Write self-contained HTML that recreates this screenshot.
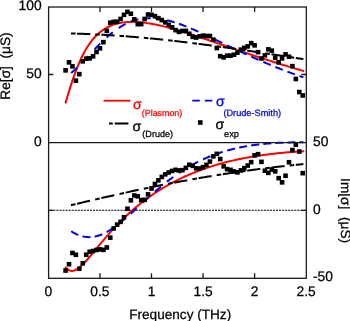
<!DOCTYPE html>
<html><head><meta charset="utf-8"><style>
html,body{margin:0;padding:0;background:#fff;}
svg{display:block;will-change:transform;}
text{font-family:"Liberation Sans",sans-serif;text-rendering:geometricPrecision;}
</style></head><body>
<svg width="350" height="321" viewBox="0 0 350 321">
<rect width="350" height="321" fill="#fff"/>
<defs><clipPath id="c"><rect x="48.4" y="7" width="257.9" height="271.3"/></clipPath></defs>
<path d="M48.6,210.3 H306.3" stroke="#000" stroke-width="1.05" stroke-dasharray="2.05 1" stroke-dashoffset="1.35" fill="none"/>
<g clip-path="url(#c)"><g transform="translate(0,0.35)">
<path d="M65.60,102.29 L67.60,95.56 L69.60,89.02 L71.59,82.77 L73.59,76.87 L75.59,71.35 L77.59,66.22 L79.59,61.49 L81.59,57.14 L83.58,53.17 L85.58,49.54 L87.58,46.25 L89.58,43.27 L91.58,40.57 L93.58,38.13 L95.57,35.94 L97.57,33.97 L99.57,32.20 L101.57,30.62 L103.57,29.22 L105.57,27.97 L107.56,26.86 L109.56,25.89 L111.56,25.04 L113.56,24.31 L115.56,23.68 L117.56,23.14 L119.55,22.69 L121.55,22.32 L123.55,22.03 L125.55,21.81 L127.55,21.65 L129.55,21.55 L131.54,21.51 L133.54,21.52 L135.54,21.58 L137.54,21.69 L139.54,21.83 L141.54,22.02 L143.53,22.24 L145.53,22.50 L147.53,22.78 L149.53,23.10 L151.53,23.45 L153.53,23.82 L155.52,24.22 L157.52,24.64 L159.52,25.08 L161.52,25.54 L163.52,26.02 L165.52,26.52 L167.51,27.03 L169.51,27.56 L171.51,28.11 L173.51,28.67 L175.51,29.24 L177.51,29.82 L179.50,30.41 L181.50,31.01 L183.50,31.62 L185.50,32.24 L187.50,32.87 L189.50,33.51 L191.49,34.15 L193.49,34.80 L195.49,35.45 L197.49,36.11 L199.49,36.77 L201.49,37.44 L203.48,38.11 L205.48,38.79 L207.48,39.47 L209.48,40.14 L211.48,40.83 L213.48,41.51 L215.47,42.19 L217.47,42.88 L219.47,43.57 L221.47,44.25 L223.47,44.94 L225.47,45.63 L227.46,46.32 L229.46,47.00 L231.46,47.69 L233.46,48.37 L235.46,49.05 L237.46,49.74 L239.45,50.42 L241.45,51.09 L243.45,51.77 L245.45,52.44 L247.45,53.12 L249.45,53.79 L251.44,54.45 L253.44,55.12 L255.44,55.78 L257.44,56.44 L259.44,57.09 L261.44,57.74 L263.43,58.39 L265.43,59.04 L267.43,59.68 L269.43,60.32 L271.43,60.95 L273.43,61.58 L275.42,62.21 L277.42,62.83 L279.42,63.45 L281.42,64.07 L283.42,64.68 L285.42,65.29 L287.41,65.89 L289.41,66.49 L291.41,67.09 L293.41,67.68 L295.41,68.27 L297.41,68.85 L299.40,69.43 L301.40,70.00 L303.40,70.57" stroke="#ff0000" stroke-width="2" fill="none" stroke-linecap="round"/>
<path d="M65.60,267.09 L67.60,269.05 L69.60,270.17 L71.59,270.56 L73.59,270.35 L75.59,269.62 L77.59,268.47 L79.59,266.98 L81.59,265.22 L83.58,263.25 L85.58,261.13 L87.58,258.88 L89.58,256.55 L91.58,254.17 L93.58,251.75 L95.57,249.31 L97.57,246.88 L99.57,244.46 L101.57,242.05 L103.57,239.67 L105.57,237.33 L107.56,235.02 L109.56,232.75 L111.56,230.52 L113.56,228.34 L115.56,226.20 L117.56,224.11 L119.55,222.06 L121.55,220.06 L123.55,218.10 L125.55,216.18 L127.55,214.31 L129.55,212.49 L131.54,210.70 L133.54,208.96 L135.54,207.26 L137.54,205.60 L139.54,203.98 L141.54,202.40 L143.53,200.86 L145.53,199.35 L147.53,197.88 L149.53,196.44 L151.53,195.04 L153.53,193.68 L155.52,192.35 L157.52,191.05 L159.52,189.78 L161.52,188.54 L163.52,187.33 L165.52,186.15 L167.51,185.01 L169.51,183.89 L171.51,182.79 L173.51,181.73 L175.51,180.69 L177.51,179.68 L179.50,178.69 L181.50,177.73 L183.50,176.80 L185.50,175.88 L187.50,174.99 L189.50,174.13 L191.49,173.28 L193.49,172.46 L195.49,171.66 L197.49,170.88 L199.49,170.13 L201.49,169.39 L203.48,168.67 L205.48,167.97 L207.48,167.29 L209.48,166.63 L211.48,165.99 L213.48,165.37 L215.47,164.76 L217.47,164.17 L219.47,163.60 L221.47,163.04 L223.47,162.50 L225.47,161.98 L227.46,161.47 L229.46,160.98 L231.46,160.50 L233.46,160.04 L235.46,159.59 L237.46,159.15 L239.45,158.73 L241.45,158.32 L243.45,157.93 L245.45,157.54 L247.45,157.17 L249.45,156.82 L251.44,156.47 L253.44,156.14 L255.44,155.81 L257.44,155.50 L259.44,155.20 L261.44,154.91 L263.43,154.63 L265.43,154.37 L267.43,154.11 L269.43,153.86 L271.43,153.62 L273.43,153.39 L275.42,153.17 L277.42,152.96 L279.42,152.75 L281.42,152.56 L283.42,152.37 L285.42,152.19 L287.41,152.02 L289.41,151.86 L291.41,151.71 L293.41,151.56 L295.41,151.42 L297.41,151.29 L299.40,151.16 L301.40,151.04 L303.40,150.93" stroke="#ff0000" stroke-width="2" fill="none" stroke-linecap="round"/>
<path d="M71.20,72.66 L71.75,72.19 L72.30,71.71 L72.85,71.23 L73.39,70.75 L73.93,70.26 L74.47,69.77 L75.00,69.27 L75.53,68.78 L76.06,68.28 L76.58,67.77 L77.11,67.27 M82.55,61.76 L83.05,61.24 L83.55,60.71 L84.06,60.19 L84.56,59.66 L85.06,59.13 L85.55,58.60 L86.05,58.07 L86.55,57.54 L87.05,57.01 L87.54,56.48 L88.04,55.95 M94.60,48.96 L95.10,48.43 L95.60,47.91 L96.11,47.38 L96.61,46.86 L97.12,46.33 L97.63,45.81 L98.13,45.29 L98.64,44.77 L99.15,44.26 L99.67,43.74 L100.18,43.23 M106.65,37.07 L107.19,36.59 L107.74,36.10 L108.28,35.63 L108.83,35.15 L109.39,34.68 L109.94,34.21 L110.50,33.74 L111.06,33.28 L111.63,32.82 L112.19,32.37 L112.76,31.92 M118.70,27.64 L119.31,27.24 L119.92,26.85 L120.54,26.47 L121.16,26.09 L121.79,25.72 L122.42,25.35 L123.05,24.99 L123.69,24.64 L124.33,24.30 L124.97,23.96 L125.62,23.63 M130.75,21.36 L131.43,21.10 L132.11,20.85 L132.80,20.61 L133.49,20.38 L134.18,20.16 L134.88,19.95 L135.58,19.75 L136.28,19.56 L136.98,19.37 L137.69,19.20 L138.40,19.04 M142.80,18.26 L143.52,18.17 L144.24,18.08 L144.97,18.01 L145.69,17.95 L146.42,17.90 L147.14,17.85 L147.87,17.82 L148.60,17.80 L149.32,17.78 L150.05,17.78 L150.78,17.78 M154.85,17.96 L155.57,18.02 L156.30,18.08 L157.02,18.16 L157.75,18.24 L158.47,18.33 L159.19,18.43 L159.91,18.53 L160.63,18.64 L161.34,18.76 L162.06,18.88 L162.78,19.02 M166.90,19.89 L167.61,20.06 L168.31,20.23 L169.02,20.41 L169.72,20.60 L170.42,20.79 L171.12,20.98 L171.82,21.18 L172.52,21.39 L173.22,21.59 L173.91,21.80 L174.61,22.02 M178.95,23.46 L179.64,23.70 L180.32,23.95 L181.01,24.19 L181.69,24.44 L182.37,24.70 L183.05,24.95 L183.73,25.21 L184.41,25.47 L185.09,25.73 L185.76,26.00 L186.44,26.27 M191.00,28.14 L191.67,28.42 L192.34,28.71 L193.01,28.99 L193.67,29.28 L194.34,29.57 L195.01,29.86 L195.67,30.16 L196.34,30.45 L197.00,30.74 L197.67,31.04 L198.33,31.34 M203.05,33.49 L203.71,33.80 L204.37,34.10 L205.03,34.41 L205.69,34.72 L206.35,35.03 L207.00,35.34 L207.66,35.65 L208.32,35.96 L208.98,36.27 L209.63,36.58 L210.29,36.89 M215.10,39.19 L215.76,39.50 L216.41,39.82 L217.07,40.13 L217.72,40.45 L218.38,40.76 L219.03,41.08 L219.69,41.39 L220.34,41.71 L221.00,42.03 L221.65,42.34 L222.31,42.66 M227.15,44.99 L227.81,45.30 L228.46,45.61 L229.12,45.93 L229.77,46.24 L230.43,46.56 L231.09,46.87 L231.74,47.18 L232.40,47.50 L233.05,47.81 L233.71,48.12 L234.37,48.43 M239.20,50.72 L239.86,51.02 L240.52,51.33 L241.18,51.64 L241.84,51.95 L242.49,52.25 L243.15,52.56 L243.81,52.87 L244.47,53.17 L245.13,53.48 L245.80,53.78 L246.46,54.08 M251.25,56.27 L251.91,56.56 L252.58,56.86 L253.24,57.16 L253.90,57.46 L254.57,57.75 L255.23,58.05 L255.90,58.34 L256.56,58.64 L257.23,58.93 L257.89,59.22 L258.56,59.51 M263.30,61.57 L263.97,61.85 L264.64,62.14 L265.31,62.42 L265.98,62.71 L266.65,62.99 L267.32,63.27 L267.99,63.55 L268.66,63.83 L269.33,64.11 L270.00,64.39 L270.67,64.67 M275.35,66.58 L276.02,66.85 L276.70,67.12 L277.37,67.39 L278.05,67.66 L278.73,67.93 L279.40,68.20 L280.08,68.46 L280.76,68.73 L281.43,68.99 L282.11,69.26 L282.79,69.52 M287.40,71.29 L288.08,71.54 L288.76,71.80 L289.44,72.05 L290.12,72.31 L290.81,72.56 L291.49,72.81 L292.17,73.06 L292.85,73.31 L293.54,73.56 L294.22,73.81 L294.90,74.06 M299.45,75.68 L299.81,75.81 L300.17,75.93 L300.53,76.06 L300.89,76.18 L301.24,76.31 L301.60,76.43 L301.96,76.56 L302.32,76.68 L302.68,76.81 L303.04,76.93 L303.40,77.06" stroke="#0000e0" stroke-width="2" fill="none"/>
<path d="M71.20,230.91 L71.81,231.29 L72.43,231.67 L73.06,232.05 L73.69,232.41 L74.33,232.76 L74.97,233.10 L75.62,233.42 L76.28,233.74 L76.94,234.04 L77.60,234.33 L78.28,234.61 M82.55,235.98 L83.26,236.15 L83.97,236.29 L84.69,236.42 L85.41,236.53 L86.13,236.62 L86.85,236.69 L87.58,236.74 L88.30,236.77 L89.03,236.79 L89.76,236.78 L90.49,236.76 M94.60,236.26 L95.31,236.12 L96.02,235.96 L96.73,235.79 L97.43,235.60 L98.13,235.39 L98.82,235.17 L99.51,234.94 L100.20,234.69 L100.88,234.44 L101.55,234.17 L102.22,233.89 M106.65,231.72 L107.29,231.37 L107.92,231.01 L108.55,230.64 L109.17,230.27 L109.79,229.89 L110.41,229.50 L111.02,229.11 L111.63,228.71 L112.23,228.31 L112.83,227.90 L113.43,227.49 M118.70,223.58 L119.27,223.13 L119.84,222.68 L120.41,222.22 L120.97,221.77 L121.53,221.31 L122.10,220.84 L122.65,220.38 L123.21,219.91 L123.77,219.44 L124.32,218.97 L124.87,218.50 M130.75,213.32 L131.29,212.83 L131.83,212.34 L132.37,211.85 L132.91,211.36 L133.44,210.87 L133.98,210.38 L134.52,209.89 L135.05,209.40 L135.59,208.91 L136.12,208.41 L136.66,207.92 M142.80,202.26 L143.34,201.76 L143.87,201.27 L144.41,200.78 L144.94,200.29 L145.48,199.80 L146.02,199.31 L146.55,198.82 L147.09,198.33 L147.63,197.84 L148.17,197.35 L148.71,196.86 M154.85,191.41 L155.40,190.93 L155.95,190.46 L156.50,189.98 L157.05,189.51 L157.60,189.03 L158.16,188.56 L158.71,188.09 L159.27,187.62 L159.82,187.16 L160.38,186.69 L160.94,186.22 M166.90,181.42 L167.47,180.97 L168.05,180.53 L168.62,180.08 L169.20,179.64 L169.78,179.20 L170.36,178.76 L170.94,178.33 L171.53,177.89 L172.11,177.46 L172.70,177.03 L173.29,176.60 M178.95,172.63 L179.55,172.23 L180.16,171.82 L180.77,171.42 L181.37,171.02 L181.98,170.63 L182.60,170.23 L183.21,169.84 L183.82,169.45 L184.44,169.07 L185.06,168.68 L185.68,168.30 M191.00,165.17 L191.63,164.81 L192.27,164.46 L192.91,164.11 L193.55,163.76 L194.19,163.42 L194.83,163.08 L195.47,162.74 L196.12,162.40 L196.76,162.07 L197.41,161.74 L198.06,161.41 M203.05,159.02 L203.71,158.71 L204.37,158.42 L205.04,158.12 L205.71,157.83 L206.37,157.54 L207.04,157.25 L207.71,156.97 L208.38,156.69 L209.05,156.41 L209.73,156.14 L210.40,155.86 M215.10,154.07 L215.78,153.83 L216.47,153.58 L217.16,153.34 L217.84,153.10 L218.53,152.87 L219.22,152.64 L219.91,152.41 L220.60,152.18 L221.29,151.96 L221.99,151.74 L222.68,151.52 M227.15,150.21 L227.85,150.01 L228.55,149.82 L229.25,149.63 L229.96,149.44 L230.66,149.26 L231.37,149.08 L232.07,148.90 L232.78,148.73 L233.48,148.55 L234.19,148.38 L234.90,148.22 M239.20,147.26 L239.91,147.12 L240.62,146.97 L241.34,146.83 L242.05,146.69 L242.77,146.55 L243.48,146.42 L244.20,146.28 L244.91,146.15 L245.63,146.03 L246.34,145.90 L247.06,145.78 M251.25,145.11 L251.97,145.00 L252.69,144.90 L253.41,144.80 L254.13,144.70 L254.85,144.60 L255.57,144.50 L256.29,144.41 L257.01,144.32 L257.74,144.23 L258.46,144.14 L259.18,144.05 M263.30,143.61 L264.02,143.54 L264.75,143.47 L265.47,143.40 L266.20,143.33 L266.92,143.27 L267.64,143.20 L268.37,143.14 L269.09,143.08 L269.82,143.03 L270.54,142.97 L271.27,142.92 M275.35,142.64 L276.08,142.60 L276.80,142.56 L277.53,142.52 L278.25,142.48 L278.98,142.44 L279.71,142.41 L280.43,142.38 L281.16,142.34 L281.89,142.31 L282.61,142.28 L283.34,142.25 M287.40,142.12 L288.13,142.10 L288.85,142.08 L289.58,142.07 L290.31,142.05 L291.04,142.04 L291.76,142.02 L292.49,142.01 L293.22,142.00 L293.94,141.99 L294.67,141.98 L295.40,141.97 M299.45,141.95 L299.81,141.95 L300.17,141.95 L300.53,141.95 L300.89,141.95 L301.25,141.95 L301.60,141.95 L301.96,141.96 L302.32,141.96 L302.68,141.96 L303.04,141.96 L303.40,141.96" stroke="#0000e0" stroke-width="2" fill="none"/>
<path d="M71.00,33.17 L71.42,33.18 L71.84,33.19 L72.25,33.20 L72.67,33.21 L73.09,33.22 L73.51,33.23 L73.93,33.24 L74.34,33.25 L74.76,33.26 L75.18,33.27 L75.60,33.28 M77.10,33.33 L78.30,33.36 L79.50,33.40 L80.70,33.44 L81.90,33.48 L83.10,33.52 L84.30,33.57 L85.50,33.61 L86.69,33.66 L87.89,33.71 L89.09,33.76 L90.29,33.81 M95.20,34.03 L95.62,34.05 L96.04,34.07 L96.45,34.09 L96.87,34.11 L97.29,34.13 L97.71,34.15 L98.12,34.17 L98.54,34.19 L98.96,34.22 L99.38,34.24 L99.79,34.26 M101.40,34.34 L102.60,34.41 L103.80,34.48 L104.99,34.54 L106.19,34.61 L107.39,34.68 L108.59,34.76 L109.79,34.83 L110.98,34.90 L112.18,34.98 L113.38,35.06 L114.58,35.14 M119.50,35.47 L119.92,35.50 L120.33,35.53 L120.75,35.56 L121.17,35.59 L121.59,35.62 L122.00,35.65 L122.42,35.68 L122.84,35.71 L123.25,35.74 L123.67,35.78 L124.09,35.81 M125.70,35.93 L126.90,36.02 L128.09,36.11 L129.29,36.21 L130.49,36.30 L131.68,36.40 L132.88,36.50 L134.07,36.60 L135.27,36.70 L136.46,36.80 L137.66,36.90 L138.86,37.00 M143.80,37.45 L144.22,37.48 L144.63,37.52 L145.05,37.56 L145.47,37.60 L145.88,37.64 L146.30,37.68 L146.71,37.72 L147.13,37.76 L147.55,37.79 L147.96,37.83 L148.38,37.87 M150.00,38.03 L151.19,38.14 L152.39,38.26 L153.58,38.38 L154.78,38.50 L155.97,38.62 L157.17,38.74 L158.36,38.86 L159.55,38.98 L160.75,39.11 L161.94,39.23 L163.13,39.36 M168.10,39.89 L168.52,39.94 L168.93,39.98 L169.35,40.03 L169.76,40.07 L170.18,40.12 L170.59,40.17 L171.01,40.21 L171.43,40.26 L171.84,40.30 L172.26,40.35 L172.67,40.40 M174.30,40.58 L175.49,40.72 L176.68,40.85 L177.88,40.99 L179.07,41.13 L180.26,41.27 L181.45,41.41 L182.64,41.55 L183.84,41.69 L185.03,41.84 L186.22,41.98 L187.41,42.12 M192.40,42.74 L192.81,42.79 L193.23,42.84 L193.64,42.89 L194.06,42.94 L194.47,43.00 L194.89,43.05 L195.30,43.10 L195.72,43.15 L196.13,43.21 L196.55,43.26 L196.96,43.31 M198.60,43.52 L199.79,43.67 L200.98,43.82 L202.17,43.98 L203.36,44.13 L204.55,44.29 L205.74,44.44 L206.93,44.60 L208.12,44.76 L209.31,44.92 L210.50,45.07 L211.69,45.23 M216.70,45.91 L217.11,45.97 L217.53,46.02 L217.94,46.08 L218.36,46.14 L218.77,46.19 L219.19,46.25 L219.60,46.31 L220.01,46.36 L220.43,46.42 L220.84,46.48 L221.26,46.54 M222.90,46.76 L224.09,46.93 L225.28,47.09 L226.47,47.26 L227.65,47.43 L228.84,47.60 L230.03,47.76 L231.22,47.93 L232.41,48.10 L233.59,48.27 L234.78,48.44 L235.97,48.61 M241.00,49.34 L241.41,49.40 L241.83,49.46 L242.24,49.52 L242.66,49.58 L243.07,49.64 L243.48,49.70 L243.90,49.76 L244.31,49.82 L244.72,49.88 L245.14,49.94 L245.55,50.00 M247.20,50.24 L248.39,50.42 L249.57,50.59 L250.76,50.77 L251.95,50.94 L253.14,51.12 L254.32,51.29 L255.51,51.47 L256.70,51.65 L257.88,51.82 L259.07,52.00 L260.26,52.18 M265.30,52.94 L265.71,53.00 L266.13,53.06 L266.54,53.13 L266.95,53.19 L267.37,53.25 L267.78,53.31 L268.19,53.38 L268.61,53.44 L269.02,53.50 L269.43,53.57 L269.85,53.63 M271.50,53.88 L272.69,54.06 L273.87,54.24 L275.06,54.42 L276.25,54.60 L277.43,54.78 L278.62,54.97 L279.80,55.15 L280.99,55.33 L282.18,55.51 L283.36,55.69 L284.55,55.88 M289.60,56.65 L290.01,56.72 L290.43,56.78 L290.84,56.85 L291.25,56.91 L291.67,56.97 L292.08,57.04 L292.49,57.10 L292.91,57.17 L293.32,57.23 L293.73,57.29 L294.15,57.36 M295.80,57.61 L296.49,57.72 L297.18,57.83 L297.87,57.93 L298.56,58.04 L299.25,58.15 L299.95,58.25 L300.64,58.36 L301.33,58.47 L302.02,58.58 L302.71,58.68 L303.40,58.79" stroke="#000" stroke-width="2" fill="none"/>
<path d="M71.00,204.83 L71.41,204.73 L71.81,204.63 L72.22,204.54 L72.63,204.44 L73.03,204.34 L73.44,204.25 L73.85,204.15 L74.26,204.06 L74.66,203.96 L75.07,203.86 L75.48,203.77 M77.10,203.38 L78.27,203.11 L79.44,202.83 L80.60,202.56 L81.77,202.29 L82.94,202.01 L84.11,201.74 L85.28,201.46 L86.45,201.19 L87.61,200.92 L88.78,200.65 L89.95,200.37 M95.20,199.16 L95.61,199.06 L96.01,198.97 L96.42,198.88 L96.83,198.78 L97.24,198.69 L97.64,198.59 L98.05,198.50 L98.46,198.41 L98.87,198.31 L99.28,198.22 L99.68,198.12 M101.40,197.73 L102.57,197.46 L103.74,197.20 L104.91,196.93 L106.08,196.66 L107.25,196.40 L108.42,196.13 L109.59,195.87 L110.76,195.60 L111.93,195.34 L113.10,195.08 L114.27,194.81 M119.50,193.65 L119.91,193.56 L120.32,193.47 L120.72,193.38 L121.13,193.29 L121.54,193.20 L121.95,193.10 L122.36,193.01 L122.77,192.92 L123.17,192.83 L123.58,192.74 L123.99,192.65 M125.70,192.28 L126.87,192.02 L128.04,191.77 L129.22,191.51 L130.39,191.26 L131.56,191.00 L132.74,190.75 L133.91,190.50 L135.08,190.25 L136.26,190.00 L137.43,189.75 L138.60,189.50 M143.80,188.40 L144.21,188.31 L144.62,188.23 L145.03,188.14 L145.44,188.06 L145.85,187.97 L146.26,187.89 L146.67,187.80 L147.07,187.72 L147.48,187.63 L147.89,187.55 L148.30,187.46 M150.00,187.11 L151.18,186.87 L152.35,186.63 L153.53,186.39 L154.70,186.15 L155.88,185.91 L157.05,185.67 L158.23,185.44 L159.41,185.20 L160.58,184.96 L161.76,184.73 L162.94,184.50 M168.10,183.48 L168.51,183.40 L168.92,183.32 L169.33,183.24 L169.74,183.16 L170.15,183.08 L170.56,183.00 L170.97,182.92 L171.38,182.85 L171.80,182.77 L172.21,182.69 L172.62,182.61 M174.30,182.29 L175.48,182.06 L176.66,181.84 L177.84,181.62 L179.02,181.40 L180.20,181.17 L181.38,180.95 L182.56,180.74 L183.74,180.52 L184.92,180.30 L186.10,180.09 L187.28,179.87 M192.40,178.95 L192.81,178.88 L193.22,178.80 L193.64,178.73 L194.05,178.66 L194.46,178.58 L194.87,178.51 L195.28,178.44 L195.69,178.37 L196.11,178.29 L196.52,178.22 L196.93,178.15 M198.60,177.86 L199.78,177.65 L200.96,177.45 L202.15,177.25 L203.33,177.04 L204.51,176.84 L205.70,176.64 L206.88,176.45 L208.06,176.25 L209.25,176.05 L210.43,175.86 L211.62,175.66 M216.70,174.84 L217.11,174.77 L217.53,174.70 L217.94,174.64 L218.35,174.57 L218.76,174.51 L219.18,174.44 L219.59,174.38 L220.00,174.31 L220.42,174.25 L220.83,174.18 L221.24,174.12 M222.90,173.86 L224.09,173.67 L225.27,173.49 L226.46,173.31 L227.64,173.13 L228.83,172.95 L230.02,172.77 L231.20,172.59 L232.39,172.41 L233.58,172.24 L234.77,172.06 L235.95,171.89 M241.00,171.16 L241.41,171.10 L241.83,171.05 L242.24,170.99 L242.66,170.93 L243.07,170.87 L243.48,170.81 L243.90,170.75 L244.31,170.70 L244.73,170.64 L245.14,170.58 L245.56,170.52 M247.20,170.30 L248.39,170.13 L249.58,169.97 L250.77,169.81 L251.96,169.65 L253.15,169.49 L254.34,169.34 L255.53,169.18 L256.72,169.03 L257.91,168.87 L259.10,168.72 L260.29,168.57 M265.30,167.94 L265.72,167.89 L266.13,167.83 L266.55,167.78 L266.96,167.73 L267.38,167.68 L267.79,167.63 L268.21,167.58 L268.62,167.53 L269.04,167.48 L269.45,167.43 L269.87,167.38 M271.50,167.18 L272.69,167.04 L273.88,166.90 L275.08,166.76 L276.27,166.62 L277.46,166.49 L278.65,166.35 L279.84,166.22 L281.04,166.08 L282.23,165.95 L283.42,165.82 L284.61,165.69 M289.60,165.15 L290.02,165.10 L290.43,165.06 L290.85,165.02 L291.26,164.97 L291.68,164.93 L292.10,164.89 L292.51,164.84 L292.93,164.80 L293.34,164.76 L293.76,164.71 L294.18,164.67 M295.80,164.51 L296.49,164.44 L297.18,164.37 L297.87,164.30 L298.56,164.23 L299.25,164.16 L299.94,164.09 L300.64,164.02 L301.33,163.96 L302.02,163.89 L302.71,163.82 L303.40,163.76" stroke="#000" stroke-width="2" fill="none"/>
<g fill="#000"><rect x="63.28" y="67.70" width="4.6" height="4.6"/><rect x="66.72" y="59.70" width="4.6" height="4.6"/><rect x="70.16" y="63.70" width="4.6" height="4.6"/><rect x="73.59" y="78.00" width="4.6" height="4.6"/><rect x="77.03" y="71.50" width="4.6" height="4.6"/><rect x="80.47" y="58.70" width="4.6" height="4.6"/><rect x="83.90" y="56.00" width="4.6" height="4.6"/><rect x="87.34" y="55.70" width="4.6" height="4.6"/><rect x="90.78" y="53.70" width="4.6" height="4.6"/><rect x="94.21" y="49.30" width="4.6" height="4.6"/><rect x="97.65" y="45.70" width="4.6" height="4.6"/><rect x="101.09" y="39.50" width="4.6" height="4.6"/><rect x="104.52" y="28.20" width="4.6" height="4.6"/><rect x="107.96" y="20.00" width="4.6" height="4.6"/><rect x="111.40" y="19.20" width="4.6" height="4.6"/><rect x="114.83" y="19.10" width="4.6" height="4.6"/><rect x="118.27" y="16.30" width="4.6" height="4.6"/><rect x="121.71" y="12.20" width="4.6" height="4.6"/><rect x="125.14" y="9.20" width="4.6" height="4.6"/><rect x="128.58" y="11.10" width="4.6" height="4.6"/><rect x="132.02" y="16.70" width="4.6" height="4.6"/><rect x="135.45" y="21.50" width="4.6" height="4.6"/><rect x="138.89" y="21.50" width="4.6" height="4.6"/><rect x="142.33" y="16.30" width="4.6" height="4.6"/><rect x="145.76" y="11.90" width="4.6" height="4.6"/><rect x="149.20" y="12.20" width="4.6" height="4.6"/><rect x="152.64" y="13.50" width="4.6" height="4.6"/><rect x="156.07" y="15.50" width="4.6" height="4.6"/><rect x="159.51" y="17.40" width="4.6" height="4.6"/><rect x="162.95" y="19.70" width="4.6" height="4.6"/><rect x="166.38" y="22.20" width="4.6" height="4.6"/><rect x="169.82" y="24.70" width="4.6" height="4.6"/><rect x="173.26" y="27.50" width="4.6" height="4.6"/><rect x="176.69" y="29.20" width="4.6" height="4.6"/><rect x="180.13" y="28.30" width="4.6" height="4.6"/><rect x="183.57" y="28.30" width="4.6" height="4.6"/><rect x="187.00" y="31.10" width="4.6" height="4.6"/><rect x="190.44" y="34.20" width="4.6" height="4.6"/><rect x="193.88" y="34.90" width="4.6" height="4.6"/><rect x="197.31" y="33.70" width="4.6" height="4.6"/><rect x="200.75" y="33.10" width="4.6" height="4.6"/><rect x="204.19" y="33.40" width="4.6" height="4.6"/><rect x="207.62" y="33.40" width="4.6" height="4.6"/><rect x="211.06" y="37.00" width="4.6" height="4.6"/><rect x="214.50" y="45.40" width="4.6" height="4.6"/><rect x="217.93" y="53.50" width="4.6" height="4.6"/><rect x="221.37" y="54.70" width="4.6" height="4.6"/><rect x="224.81" y="53.00" width="4.6" height="4.6"/><rect x="228.24" y="53.00" width="4.6" height="4.6"/><rect x="231.68" y="52.10" width="4.6" height="4.6"/><rect x="235.12" y="50.00" width="4.6" height="4.6"/><rect x="238.55" y="47.00" width="4.6" height="4.6"/><rect x="241.99" y="45.20" width="4.6" height="4.6"/><rect x="245.43" y="43.70" width="4.6" height="4.6"/><rect x="248.86" y="40.50" width="4.6" height="4.6"/><rect x="252.30" y="42.70" width="4.6" height="4.6"/><rect x="255.74" y="49.50" width="4.6" height="4.6"/><rect x="259.17" y="55.80" width="4.6" height="4.6"/><rect x="262.61" y="52.70" width="4.6" height="4.6"/><rect x="266.05" y="46.70" width="4.6" height="4.6"/><rect x="269.48" y="48.00" width="4.6" height="4.6"/><rect x="272.92" y="55.10" width="4.6" height="4.6"/><rect x="276.36" y="59.70" width="4.6" height="4.6"/><rect x="279.79" y="55.70" width="4.6" height="4.6"/><rect x="283.23" y="51.70" width="4.6" height="4.6"/><rect x="286.67" y="54.10" width="4.6" height="4.6"/><rect x="290.10" y="63.50" width="4.6" height="4.6"/><rect x="293.54" y="76.30" width="4.6" height="4.6"/><rect x="296.98" y="89.40" width="4.6" height="4.6"/><rect x="300.41" y="92.80" width="4.6" height="4.6"/></g>
<g fill="#000"><rect x="63.28" y="267.90" width="4.6" height="4.6"/><rect x="66.72" y="261.60" width="4.6" height="4.6"/><rect x="70.16" y="250.30" width="4.6" height="4.6"/><rect x="73.59" y="252.10" width="4.6" height="4.6"/><rect x="77.03" y="266.10" width="4.6" height="4.6"/><rect x="80.47" y="260.60" width="4.6" height="4.6"/><rect x="83.90" y="252.10" width="4.6" height="4.6"/><rect x="87.34" y="249.10" width="4.6" height="4.6"/><rect x="90.78" y="248.30" width="4.6" height="4.6"/><rect x="94.21" y="247.30" width="4.6" height="4.6"/><rect x="97.65" y="246.70" width="4.6" height="4.6"/><rect x="101.09" y="247.20" width="4.6" height="4.6"/><rect x="104.52" y="244.80" width="4.6" height="4.6"/><rect x="107.96" y="235.00" width="4.6" height="4.6"/><rect x="111.40" y="225.80" width="4.6" height="4.6"/><rect x="114.83" y="222.00" width="4.6" height="4.6"/><rect x="118.27" y="219.20" width="4.6" height="4.6"/><rect x="121.71" y="214.60" width="4.6" height="4.6"/><rect x="125.14" y="206.10" width="4.6" height="4.6"/><rect x="128.58" y="197.70" width="4.6" height="4.6"/><rect x="132.02" y="192.80" width="4.6" height="4.6"/><rect x="135.45" y="193.70" width="4.6" height="4.6"/><rect x="138.89" y="197.40" width="4.6" height="4.6"/><rect x="142.33" y="197.20" width="4.6" height="4.6"/><rect x="145.76" y="191.70" width="4.6" height="4.6"/><rect x="149.20" y="185.90" width="4.6" height="4.6"/><rect x="152.64" y="181.30" width="4.6" height="4.6"/><rect x="156.07" y="177.70" width="4.6" height="4.6"/><rect x="159.51" y="174.30" width="4.6" height="4.6"/><rect x="162.95" y="171.70" width="4.6" height="4.6"/><rect x="166.38" y="169.80" width="4.6" height="4.6"/><rect x="169.82" y="168.30" width="4.6" height="4.6"/><rect x="173.26" y="167.20" width="4.6" height="4.6"/><rect x="176.69" y="167.80" width="4.6" height="4.6"/><rect x="180.13" y="167.50" width="4.6" height="4.6"/><rect x="183.57" y="165.20" width="4.6" height="4.6"/><rect x="187.00" y="162.10" width="4.6" height="4.6"/><rect x="190.44" y="163.20" width="4.6" height="4.6"/><rect x="193.88" y="165.60" width="4.6" height="4.6"/><rect x="197.31" y="165.90" width="4.6" height="4.6"/><rect x="200.75" y="164.50" width="4.6" height="4.6"/><rect x="204.19" y="162.20" width="4.6" height="4.6"/><rect x="207.62" y="158.90" width="4.6" height="4.6"/><rect x="211.06" y="153.70" width="4.6" height="4.6"/><rect x="214.50" y="151.20" width="4.6" height="4.6"/><rect x="217.93" y="156.40" width="4.6" height="4.6"/><rect x="221.37" y="163.70" width="4.6" height="4.6"/><rect x="224.81" y="166.50" width="4.6" height="4.6"/><rect x="228.24" y="167.20" width="4.6" height="4.6"/><rect x="231.68" y="168.80" width="4.6" height="4.6"/><rect x="235.12" y="169.70" width="4.6" height="4.6"/><rect x="238.55" y="167.70" width="4.6" height="4.6"/><rect x="241.99" y="165.50" width="4.6" height="4.6"/><rect x="245.43" y="162.90" width="4.6" height="4.6"/><rect x="248.86" y="159.50" width="4.6" height="4.6"/><rect x="252.30" y="152.70" width="4.6" height="4.6"/><rect x="255.74" y="151.50" width="4.6" height="4.6"/><rect x="259.17" y="159.20" width="4.6" height="4.6"/><rect x="262.61" y="168.10" width="4.6" height="4.6"/><rect x="266.05" y="170.20" width="4.6" height="4.6"/><rect x="269.48" y="166.90" width="4.6" height="4.6"/><rect x="272.92" y="168.70" width="4.6" height="4.6"/><rect x="276.36" y="175.50" width="4.6" height="4.6"/><rect x="279.79" y="179.70" width="4.6" height="4.6"/><rect x="283.23" y="173.10" width="4.6" height="4.6"/><rect x="286.67" y="159.60" width="4.6" height="4.6"/><rect x="290.10" y="147.40" width="4.6" height="4.6"/><rect x="293.54" y="142.10" width="4.6" height="4.6"/><rect x="296.98" y="148.90" width="4.6" height="4.6"/><rect x="300.41" y="170.50" width="4.6" height="4.6"/></g>
</g></g>
<rect x="48.6" y="7" width="257.7" height="271.3" fill="none" stroke="#1a1a1a" stroke-width="1.3"/>
<path d="M48.6,142.55 H306.3" stroke="#1a1a1a" stroke-width="1.25"/>
<path d="M99.95,278.3 v-5 M99.95,7 v5 M151.50,278.3 v-5 M151.50,7 v5 M203.05,278.3 v-5 M203.05,7 v5 M254.60,278.3 v-5 M254.60,7 v5 M48.4,74.5 h5 M306.3,74.5 h-5 M48.4,210.3 h5 M306.3,210.3 h-5" stroke="#1a1a1a" stroke-width="1.3" fill="none"/>
<g font-size="13.8" fill="#000" stroke="#000" stroke-width="0.25">
<text x="41.6" y="9.6" text-anchor="end">100</text>
<text x="41.6" y="78.3" text-anchor="end">50</text>
<text x="41.6" y="146" text-anchor="end">0</text>
<text x="313" y="146" >50</text>
<text x="313" y="213.7" >0</text>
<text x="313" y="281" >-50</text>
<text x="48.4" y="296.2" text-anchor="middle">0</text>
<text x="99.95" y="296.2" text-anchor="middle">0.5</text>
<text x="151.50" y="296.2" text-anchor="middle">1</text>
<text x="203.05" y="296.2" text-anchor="middle">1.5</text>
<text x="254.60" y="296.2" text-anchor="middle">2</text>
<text x="306.15" y="296.2" text-anchor="middle">2.5</text>
</g>
<text x="180.2" y="318.5" font-size="13.6" text-anchor="middle" stroke="#000" stroke-width="0.25">Frequency (THz)</text>
<text transform="translate(9.8,66) rotate(-90)" font-size="13.7" text-anchor="middle" stroke="#000" stroke-width="0.25" xml:space="preserve" style="white-space:pre">Re[σ]  (μS)</text>
<text transform="translate(340.7,210.6) rotate(90)" font-size="13.7" text-anchor="middle" stroke="#000" stroke-width="0.25" xml:space="preserve" style="white-space:pre">Im[σ]  (μS)</text>
<!-- legend -->
<path d="M103.6,100.7 H130.4" stroke="#ff0000" stroke-width="1.8"/>
<text x="133" y="108.6" font-size="14" fill="#ff0000" stroke="#ff0000" stroke-width="0.3">σ</text>
<text x="141.8" y="115.9" font-size="8.9" fill="#ff0000" stroke="#ff0000" stroke-width="0.25">(Plasmon)</text>
<path d="M192.3,100.6 H213" stroke="#0000e0" stroke-width="1.85" stroke-dasharray="7.5 5"/>
<text x="216" y="106" font-size="14" fill="#0000e0" stroke="#0000e0" stroke-width="0.3">σ</text>
<text x="223.4" y="115.5" font-size="9.2" fill="#0000e0" stroke="#0000e0" stroke-width="0.25">(Drude-Smith)</text>
<path d="M109,123.6 H129" stroke="#000" stroke-width="2" stroke-dasharray="3.8 1.9 13.7 5"/>
<text x="132.4" y="130.5" font-size="14" stroke="#000" stroke-width="0.3">σ</text>
<text x="142.3" y="137.1" font-size="9.1" stroke="#000" stroke-width="0.25">(Drude)</text>
<rect x="198" y="120.2" width="4.6" height="4.6" fill="#000"/>
<text x="215.6" y="129.1" font-size="14" stroke="#000" stroke-width="0.3">σ</text>
<text x="224" y="136.6" font-size="9.3" stroke="#000" stroke-width="0.25">exp</text>
</svg>
</body></html>
